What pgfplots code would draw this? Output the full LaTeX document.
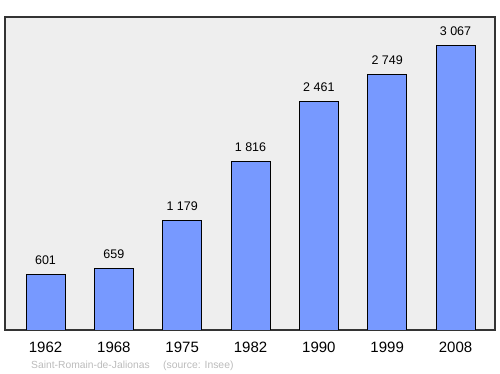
\documentclass[border=0pt]{standalone}
\usepackage{pgfplots}
\pgfplotsset{compat=1.18}
\usepackage{fontspec}
\setmainfont{Liberation Sans}
\definecolor{barblue}{HTML}{7799FF}
\definecolor{bgray}{HTML}{EEEEEE}
\definecolor{srcgray}{HTML}{BBBBBB}
\begin{document}
\begin{tikzpicture}
\path[use as bounding box] (0,0) rectangle (500bp,374bp);
\begin{axis}[
  at={(5bp,44bp)}, anchor=south west,
  scale only axis, width=490bp, height=313bp,
  xmin=-0.593, xmax=6.578, ymin=0, ymax=3369,
  axis background/.style={fill=bgray},
  axis line style={draw=black!80, line width=1.3bp},
  ytick=\empty,
  xtick={0,1,2,3,4,5,6},
  xticklabels={1962,1968,1975,1982,1990,1999,2008},
  major tick length=0pt,
  xticklabel style={font=\fontsize{15bp}{17bp}\selectfont, anchor=base, yshift=-23bp},
  ybar, bar width=0.571,
  point meta=explicit symbolic,
  nodes near coords,
  nodes near coords style={font=\fontsize{12.5bp}{14bp}\selectfont, anchor=base, yshift=10bp},
]
\addplot[fill=barblue, draw=black, line width=0.8bp] table[meta=lab, col sep=comma] {
x,y,lab
0,601,601
1,659,659
2,1179,1 179
3,1816,1 816
4,2461,2 461
5,2749,2 749
6,3067,3 067
};
\end{axis}
\node[anchor=base west, text=srcgray, font=\fontsize{10.3bp}{12bp}\selectfont, inner sep=0] at (31bp,6bp) {Saint-Romain-de-Jalionas};
\node[anchor=base west, text=srcgray, font=\fontsize{10.4bp}{12bp}\selectfont, inner sep=0] at (163bp,6bp) {(source: Insee)};
\end{tikzpicture}
\end{document}
